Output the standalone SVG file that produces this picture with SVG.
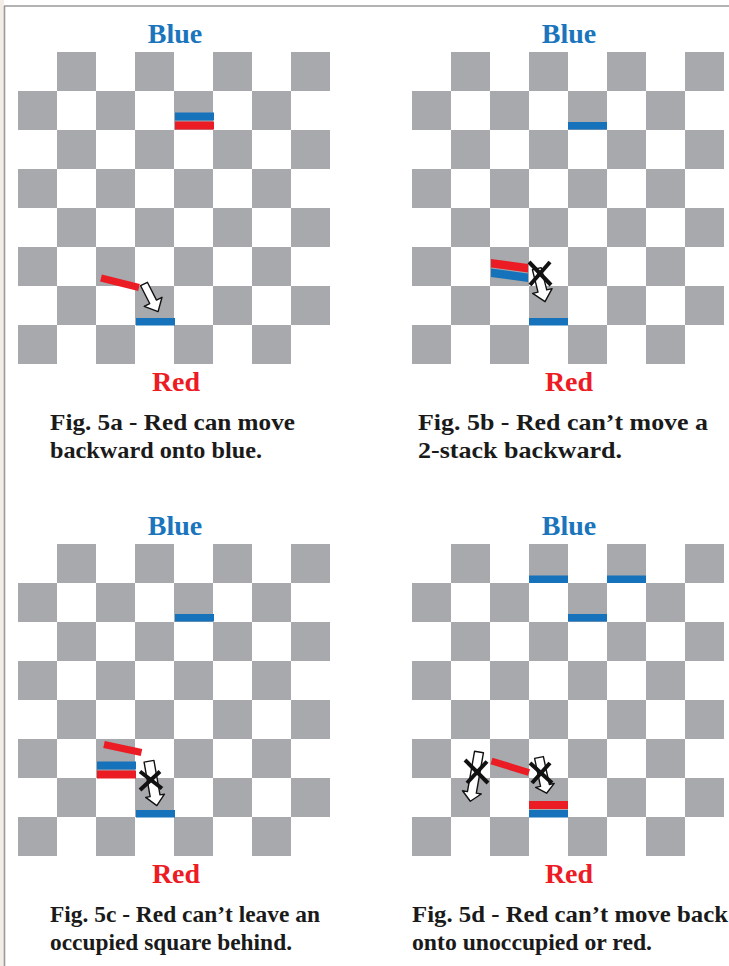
<svg xmlns="http://www.w3.org/2000/svg" xmlns:xlink="http://www.w3.org/1999/xlink" width="729" height="966" viewBox="0 0 729 966">
<style>
.sq{fill:#a7a9ac}
.bl{fill:#1572bb}
.rd{fill:#ec1c24}
.mv{stroke:#ec1c24;stroke-width:7;fill:none}
.arrow{fill:#fff;stroke:#111;stroke-width:1.4;stroke-linejoin:round}
.x{stroke:#111;stroke-width:4;fill:none}
.lblB{font-family:"Liberation Serif","Times New Roman",serif;font-weight:bold;font-size:28px;fill:#1a75bc;text-anchor:middle}
.lblR{font-family:"Liberation Serif","Times New Roman",serif;font-weight:bold;font-size:28px;fill:#ed1c24;text-anchor:middle}
.cap{font-family:"Liberation Serif","Times New Roman",serif;font-weight:bold;font-size:23px;fill:#1a1a1a}
</style>
<defs>
<g id="board">
<rect class="sq" x="39" y="0" width="39" height="39"/><rect class="sq" x="117" y="0" width="39" height="39"/><rect class="sq" x="195" y="0" width="39" height="39"/><rect class="sq" x="273" y="0" width="39" height="39"/>
<rect class="sq" x="0" y="39" width="39" height="39"/><rect class="sq" x="78" y="39" width="39" height="39"/><rect class="sq" x="156" y="39" width="39" height="39"/><rect class="sq" x="234" y="39" width="39" height="39"/>
<rect class="sq" x="39" y="78" width="39" height="39"/><rect class="sq" x="117" y="78" width="39" height="39"/><rect class="sq" x="195" y="78" width="39" height="39"/><rect class="sq" x="273" y="78" width="39" height="39"/>
<rect class="sq" x="0" y="117" width="39" height="39"/><rect class="sq" x="78" y="117" width="39" height="39"/><rect class="sq" x="156" y="117" width="39" height="39"/><rect class="sq" x="234" y="117" width="39" height="39"/>
<rect class="sq" x="39" y="156" width="39" height="39"/><rect class="sq" x="117" y="156" width="39" height="39"/><rect class="sq" x="195" y="156" width="39" height="39"/><rect class="sq" x="273" y="156" width="39" height="39"/>
<rect class="sq" x="0" y="195" width="39" height="39"/><rect class="sq" x="78" y="195" width="39" height="39"/><rect class="sq" x="156" y="195" width="39" height="39"/><rect class="sq" x="234" y="195" width="39" height="39"/>
<rect class="sq" x="39" y="234" width="39" height="39"/><rect class="sq" x="117" y="234" width="39" height="39"/><rect class="sq" x="195" y="234" width="39" height="39"/><rect class="sq" x="273" y="234" width="39" height="39"/>
<rect class="sq" x="0" y="273" width="39" height="39"/><rect class="sq" x="78" y="273" width="39" height="39"/><rect class="sq" x="156" y="273" width="39" height="39"/><rect class="sq" x="234" y="273" width="39" height="39"/>
</g>
</defs>
<rect x="0" y="0" width="729" height="966" fill="#fff"/>
<rect x="0" y="0" width="4" height="966" fill="#f3ede5"/>
<g id="frame">
<line x1="4.5" y1="6" x2="4.5" y2="966" stroke="#9a9a9a" stroke-width="1.6"/>
<line x1="4" y1="6" x2="729" y2="6" stroke="#9a9a9a" stroke-width="1.6"/>
</g>

<g id="fig5a">
<use xlink:href="#board" href="#board" transform="translate(18,52)"/>
<text class="lblB" x="175" y="43">Blue</text>
<rect class="bl" x="175" y="112.5" width="39" height="8"/>
<rect class="rd" x="175" y="121.5" width="39" height="8"/>
<rect class="bl" x="136" y="318" width="39" height="7.5"/>
<line class="mv" x1="101" y1="278" x2="139" y2="287.5"/>
<path class="arrow" transform="translate(144,284) rotate(-27)" d="M-3.8,0 L3.8,0 L3.8,20 L10,20 L0,31 L-10,20 L-3.8,20 Z"/>
<text class="lblR" x="176" y="391">Red</text>
<text class="cap" x="50" y="430" textLength="245" lengthAdjust="spacingAndGlyphs">Fig. 5a - Red can move</text>
<text class="cap" x="50" y="458" textLength="212" lengthAdjust="spacingAndGlyphs">backward onto blue.</text>
</g>

<g id="fig5b">
<use xlink:href="#board" href="#board" transform="translate(412,52)"/>
<text class="lblB" x="569" y="43">Blue</text>
<rect class="bl" x="568" y="122" width="39" height="7.5"/>
<rect class="bl" x="529" y="318" width="39" height="7.5"/>
<polygon class="rd" points="491,259 528,264 528,272.5 491,267.5"/>
<polygon class="bl" points="491,268.5 528,273.5 528,282 491,277"/>
<path class="arrow" transform="translate(536.8,268.7) rotate(-14)" d="M-4.5,0 L4.5,0 L4.5,23 L10,23 L0,34 L-10,23 L-4.5,23 Z"/>
<line class="x" x1="529" y1="262" x2="551" y2="285"/>
<line class="x" x1="550" y1="262" x2="530" y2="285"/>
<text class="lblR" x="569" y="391">Red</text>
<text class="cap" x="418" y="430" textLength="290" lengthAdjust="spacingAndGlyphs">Fig. 5b - Red can’t move a</text>
<text class="cap" x="418" y="458" textLength="204" lengthAdjust="spacingAndGlyphs">2-stack backward.</text>
</g>

<g id="fig5c">
<use xlink:href="#board" href="#board" transform="translate(18,544)"/>
<text class="lblB" x="175" y="535">Blue</text>
<rect class="bl" x="175" y="614" width="39" height="7.5"/>
<rect class="bl" x="97" y="761.5" width="39" height="8"/>
<rect class="rd" x="97" y="770.5" width="39" height="8"/>
<rect class="bl" x="136" y="810" width="39" height="7.5"/>
<line class="mv" x1="104" y1="744.5" x2="141.5" y2="752.5"/>
<path class="arrow" transform="translate(149,761.3) rotate(-10)" d="M-5,0 L5,0 L5,35 L9.5,35 L0,45 L-9.5,35 L-5,35 Z"/>
<line class="x" x1="140" y1="771.5" x2="162" y2="788.5"/>
<line class="x" x1="160" y1="771.5" x2="140" y2="790"/>
<text class="lblR" x="176" y="883">Red</text>
<text class="cap" x="50" y="922" textLength="270" lengthAdjust="spacingAndGlyphs">Fig. 5c - Red can’t leave an</text>
<text class="cap" x="50" y="950" textLength="242" lengthAdjust="spacingAndGlyphs">occupied square behind.</text>
</g>

<g id="fig5d">
<use xlink:href="#board" href="#board" transform="translate(412,544)"/>
<text class="lblB" x="569" y="535">Blue</text>
<rect class="bl" x="529" y="575.5" width="39" height="7.5"/>
<rect class="bl" x="607" y="575.5" width="39" height="7.5"/>
<rect class="bl" x="568" y="614" width="39" height="7.5"/>
<rect class="rd" x="529" y="801" width="39" height="8"/>
<rect class="bl" x="529" y="810" width="39" height="7.5"/>
<line class="mv" x1="491.5" y1="761" x2="529" y2="772.5"/>
<path class="arrow" transform="translate(479,752) rotate(10)" d="M-4.5,0 L4.5,0 L4.5,41 L9.5,41 L0,50 L-9.5,41 L-4.5,41 Z"/>
<path class="arrow" transform="translate(539,757.5) rotate(-12)" d="M-4.5,0 L4.5,0 L4.5,28.5 L9.5,28.5 L0,36.5 L-9.5,28.5 L-4.5,28.5 Z"/>
<line class="x" x1="465" y1="760" x2="488" y2="783"/>
<line class="x" x1="487" y1="761.5" x2="467" y2="783"/>
<line class="x" x1="530" y1="763" x2="552" y2="783"/>
<line class="x" x1="550" y1="763" x2="532" y2="783"/>
<text class="lblR" x="569" y="883">Red</text>
<text class="cap" x="412" y="922" textLength="316" lengthAdjust="spacingAndGlyphs">Fig. 5d - Red can’t move back</text>
<text class="cap" x="412" y="950" textLength="240" lengthAdjust="spacingAndGlyphs">onto unoccupied or red.</text>
</g>
</svg>
